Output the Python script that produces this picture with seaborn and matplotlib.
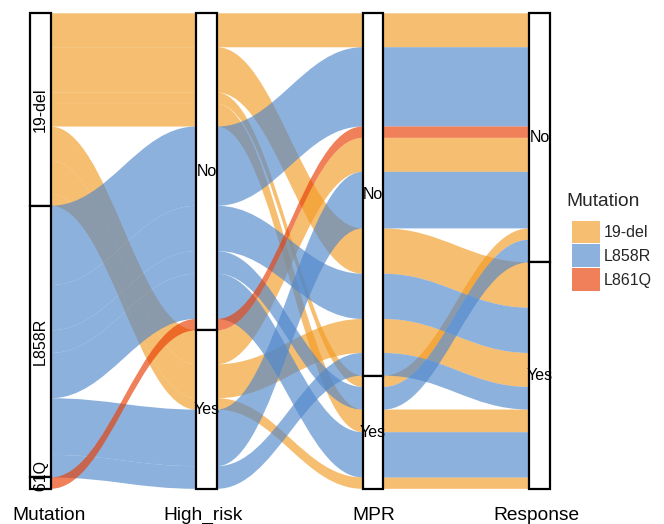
import numpy as np
import pandas as pd
import seaborn as sns
import matplotlib.pyplot as plt
import matplotlib.transforms as mtransforms
from matplotlib.path import Path
from matplotlib.patches import PathPatch, Rectangle, Patch

# axes of the alluvial plot and their levels (top to bottom)
axis_names = ["Mutation", "High_risk", "MPR", "Response"]
mutation_levels = ["19-del", "L858R", "L861Q"]
yes_no = ["No", "Yes"]

# one row per distinct patient path, with its count
mutation = ["19-del"] * 7 + ["L858R"] * 6 + ["L861Q"]
high_risk = ["No", "No", "No", "No", "Yes", "Yes", "Yes",
             "No", "No", "No", "No", "Yes", "Yes", "No"]
mpr = ["No", "No", "Yes", "Yes", "No", "No", "Yes",
       "No", "No", "Yes", "Yes", "No", "No", "No"]
response = ["No", "Yes", "No", "Yes", "No", "Yes", "Yes",
            "No", "Yes", "No", "Yes", "No", "Yes", "No"]
freq = [3, 4, 1, 2, 3, 3, 1, 7, 4, 2, 4, 5, 2, 1]

fill_colors = ["#F29B23", "#5088CC", "#E73C02"]

df = pd.DataFrame({"Mutation": mutation, "High_risk": high_risk,
                   "MPR": mpr, "Response": response, "freq": freq})
levels = {"Mutation": mutation_levels, "High_risk": yes_no,
          "MPR": yes_no, "Response": yes_no}
codes = np.array([[levels[a].index(v) for v in df[a]] for a in axis_names]).T

sns.set_theme(style="white")
plt.rcParams["font.family"] = ["Liberation Sans", "DejaVu Sans"]
palette = dict(zip(mutation_levels, sns.color_palette(fill_colors)))
alpha = 0.65


def zigzag(n, i):
    # lode guidance as in ggalluvial: outward from axis i, nearer end first
    order, lo, hi = [i], i - 1, i + 1
    left = i < n - 1 - i
    while len(order) < n:
        if (left and lo >= 0) or hi >= n:
            order.append(lo)
            lo -= 1
        else:
            order.append(hi)
            hi += 1
        left = not left
    return order


n_ax = len(axis_names)
counts = df["freq"].to_numpy()
pos = np.zeros((n_ax, len(df)))
for i in range(n_ax):
    keys = [tuple(codes[r, j] for j in zigzag(n_ax, i)) + (r,) for r in range(len(df))]
    order = sorted(range(len(df)), key=lambda r: keys[r])
    start = 0
    for r in order:
        pos[i, r] = start
        start += counts[r]

fig = plt.figure(figsize=(6.64, 5.24), dpi=100)
ax = fig.add_axes([6.86 / 664, 31 / 524, (556.1 - 6.86) / 664, 488 / 524])
ax.set_xlim(0.8, 4.1)
ax.set_ylim(42.37, -0.733)

w = 0.125
c = 0.4
for r in range(len(df)):
    col = palette[df["Mutation"][r]]
    for i in range(n_ax - 1):
        x0, x1 = i + 1 + w / 2, i + 2 - w / 2
        d = x1 - x0
        yt0, yt1 = pos[i, r], pos[i + 1, r]
        yb0, yb1 = yt0 + counts[r], yt1 + counts[r]
        verts = [(x0, yt0), (x0 + c * d, yt0), (x1 - c * d, yt1), (x1, yt1),
                 (x1, yb1), (x1 - c * d, yb1), (x0 + c * d, yb0), (x0, yb0),
                 (x0, yt0)]
        kinds = [Path.MOVETO, Path.CURVE4, Path.CURVE4, Path.CURVE4,
                 Path.LINETO, Path.CURVE4, Path.CURVE4, Path.CURVE4, Path.CLOSEPOLY]
        ax.add_patch(PathPatch(Path(verts, kinds), facecolor=col, alpha=alpha,
                               edgecolor="none", lw=0))

# strata boxes and labels
for i, a in enumerate(axis_names):
    tot = df.groupby(a)["freq"].sum().reindex(levels[a]).fillna(0)
    start = 0
    for lev, n in tot.items():
        ax.add_patch(Rectangle((i + 1 - w / 2, start), w, n, facecolor="white",
                               edgecolor="black", lw=1.6, zorder=3))
        ax.text(i + 1, start + n / 2, lev, rotation=90 if i == 0 else 0,
                ha="center", va="center", fontsize=11.5, color="black",
                zorder=4, clip_on=True)
        start += n

ax.set_xticks(range(1, n_ax + 1), labels=axis_names, fontsize=13.8)
ax.set_yticks([])
ax.tick_params(axis="x", length=0, pad=10, colors="black")
# small horizontal nudges of the axis titles, as in the original
for lab, dx in zip(ax.get_xticklabels(), [9, -4, 1, -3]):
    lab.set_transform(lab.get_transform() +
                      mtransforms.ScaledTranslation(dx / 100, 0, fig.dpi_scale_trans))
sns.despine(ax=ax, left=True, bottom=True)

handles = [Patch(facecolor=palette[m], alpha=alpha, edgecolor="none") for m in mutation_levels]
fig.legend(handles, mutation_levels, loc="upper left",
           bbox_to_anchor=(571.5 / 664, 1 - 220.5 / 524), frameon=False,
           fontsize=11.5, handlelength=1.77, handleheight=1.77, labelspacing=0.1,
           handletextpad=0.25, borderpad=0, borderaxespad=0)
fig.text(566 / 664, 1 - 201 / 524, "Mutation", fontsize=13.8, ha="left", va="center")

fig.savefig("out.png", dpi=100)
